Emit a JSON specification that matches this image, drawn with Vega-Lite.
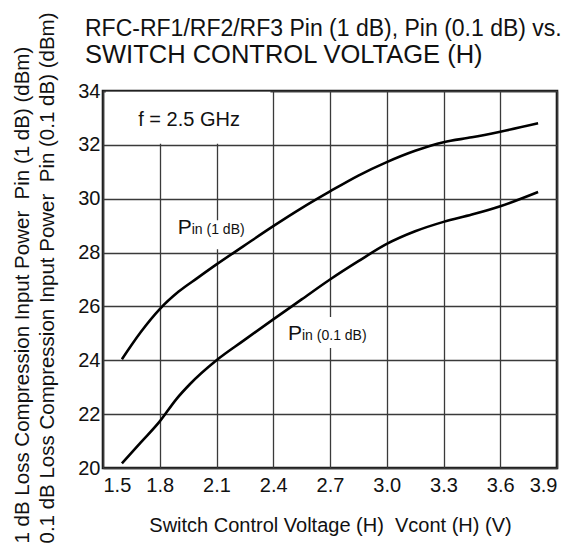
{
  "$schema": "https://vega.github.io/schema/vega-lite/v6.json",
  "width": 454,
  "height": 377,
  "autosize": {"type": "none"},
  "padding": {"left": 103, "top": 91, "right": 25, "bottom": 76},
  "background": "white",
  "config": {
    "font": "Liberation Sans",
    "view": {"stroke": "#1a1a1a", "strokeWidth": 2.6},
    "axis": {
      "domain": false,
      "ticks": false,
      "grid": true,
      "gridColor": "#3a3a3a",
      "gridWidth": 1.3,
      "gridOpacity": 1,
      "labelFont": "Liberation Sans",
      "labelFontSize": 20,
      "labelColor": "#111",
      "titleFont": "Liberation Sans",
      "titleFontSize": 20,
      "titleFontWeight": "normal",
      "titleColor": "#111"
    }
  },
  "title": {
    "text": "RFC-RF1/RF2/RF3 Pin (1 dB), Pin (0.1 dB) vs.",
    "subtitle": "SWITCH CONTROL VOLTAGE (H)",
    "anchor": "start",
    "frame": "group",
    "dx": -18,
    "dy": 78,
    "offset": 22,
    "fontSize": 23,
    "fontWeight": "normal",
    "color": "#111",
    "subtitleFontSize": 25.5,
    "subtitleColor": "#111",
    "subtitleFont": "Liberation Sans",
    "subtitlePadding": 2
  },
  "datasets": {
    "curves": [
      {"v": 1.6, "p": 24.04, "s": "Pin (1 dB)"},
      {"v": 1.7, "p": 25.05, "s": "Pin (1 dB)"},
      {"v": 1.8, "p": 25.9, "s": "Pin (1 dB)"},
      {"v": 1.9, "p": 26.55, "s": "Pin (1 dB)"},
      {"v": 2.0, "p": 27.06, "s": "Pin (1 dB)"},
      {"v": 2.1, "p": 27.56, "s": "Pin (1 dB)"},
      {"v": 2.241, "p": 28.23, "s": "Pin (1 dB)"},
      {"v": 2.4, "p": 28.98, "s": "Pin (1 dB)"},
      {"v": 2.55, "p": 29.65, "s": "Pin (1 dB)"},
      {"v": 2.7, "p": 30.27, "s": "Pin (1 dB)"},
      {"v": 2.85, "p": 30.86, "s": "Pin (1 dB)"},
      {"v": 3.0, "p": 31.36, "s": "Pin (1 dB)"},
      {"v": 3.15, "p": 31.78, "s": "Pin (1 dB)"},
      {"v": 3.3, "p": 32.1, "s": "Pin (1 dB)"},
      {"v": 3.45, "p": 32.28, "s": "Pin (1 dB)"},
      {"v": 3.6, "p": 32.49, "s": "Pin (1 dB)"},
      {"v": 3.8, "p": 32.8, "s": "Pin (1 dB)"},
      {"v": 1.6, "p": 20.17, "s": "Pin (0.1 dB)"},
      {"v": 1.7, "p": 20.95, "s": "Pin (0.1 dB)"},
      {"v": 1.8, "p": 21.73, "s": "Pin (0.1 dB)"},
      {"v": 1.888, "p": 22.56, "s": "Pin (0.1 dB)"},
      {"v": 1.959, "p": 23.11, "s": "Pin (0.1 dB)"},
      {"v": 2.1, "p": 24.0, "s": "Pin (0.1 dB)"},
      {"v": 2.241, "p": 24.72, "s": "Pin (0.1 dB)"},
      {"v": 2.4, "p": 25.52, "s": "Pin (0.1 dB)"},
      {"v": 2.55, "p": 26.26, "s": "Pin (0.1 dB)"},
      {"v": 2.7, "p": 27.0, "s": "Pin (0.1 dB)"},
      {"v": 2.85, "p": 27.68, "s": "Pin (0.1 dB)"},
      {"v": 3.0, "p": 28.32, "s": "Pin (0.1 dB)"},
      {"v": 3.15, "p": 28.79, "s": "Pin (0.1 dB)"},
      {"v": 3.3, "p": 29.14, "s": "Pin (0.1 dB)"},
      {"v": 3.45, "p": 29.41, "s": "Pin (0.1 dB)"},
      {"v": 3.6, "p": 29.72, "s": "Pin (0.1 dB)"},
      {"v": 3.8, "p": 30.25, "s": "Pin (0.1 dB)"}
    ],
    "boxes": [
      {"v": 1.515, "v2": 2.385, "p": 32.04, "p2": 33.97},
      {"v": 1.89, "v2": 2.25, "p": 28.12, "p2": 29.2},
      {"v": 2.48, "v2": 2.87, "p": 24.46, "p2": 25.61}
    ],
    "labels": [
      {"v": 1.969, "p": 28.69, "big": "P", "small": "in (1 dB)"},
      {"v": 2.552, "p": 24.75, "big": "P", "small": "in (0.1 dB)"}
    ],
    "note": [
      {"v": 1.955, "p": 32.71, "t": "f = 2.5 GHz"}
    ]
  },
  "encoding": {
    "x": {
      "field": "v",
      "type": "quantitative",
      "scale": {"domain": [1.5, 3.9], "nice": false, "zero": false},
      "axis": {
        "values": [1.5, 1.8, 2.1, 2.4, 2.7, 3.0, 3.3, 3.6, 3.9],
        "format": ".1f",
        "labelPadding": 7,
        "titlePadding": 20,
        "title": "Switch Control Voltage (H)\u00a0\u00a0Vcont (H) (V)"
      }
    },
    "y": {
      "field": "p",
      "type": "quantitative",
      "scale": {"domain": [20, 34], "nice": false, "zero": false},
      "axis": {
        "values": [20, 22, 24, 26, 28, 30, 32, 34],
        "labelPadding": 3,
        "titlePadding": 20,
        "titleAlign": "left",
        "titleY": 452,
        "titleFontSize": 20.5,
        "titleLineHeight": 25,
        "title": ["1 dB Loss Compression Input Power\u00a0\u00a0Pin (1 dB) (dBm)", "0.1 dB Loss Compression Input Power\u00a0\u00a0Pin (0.1 dB) (dBm)"]
      }
    }
  },
  "layer": [
    {
      "data": {"name": "boxes"},
      "mark": {"type": "rect", "fill": "white", "stroke": null},
      "encoding": {
        "x2": {"field": "v2"},
        "y2": {"field": "p2"}
      }
    },
    {
      "data": {"name": "curves"},
      "mark": {"type": "line", "color": "black", "strokeWidth": 2.6, "interpolate": "monotone"},
      "encoding": {
        "detail": {"field": "s", "type": "nominal"}
      }
    },
    {
      "data": {"name": "labels"},
      "mark": {"type": "text", "align": "right", "baseline": "alphabetic", "fontSize": 21, "color": "#111"},
      "encoding": {"text": {"field": "big"}}
    },
    {
      "data": {"name": "labels"},
      "mark": {"type": "text", "align": "left", "baseline": "alphabetic", "fontSize": 14, "color": "#111"},
      "encoding": {"text": {"field": "small"}}
    },
    {
      "data": {"name": "note"},
      "mark": {"type": "text", "align": "center", "baseline": "alphabetic", "fontSize": 20, "color": "#111"},
      "encoding": {"text": {"field": "t"}}
    }
  ]
}
